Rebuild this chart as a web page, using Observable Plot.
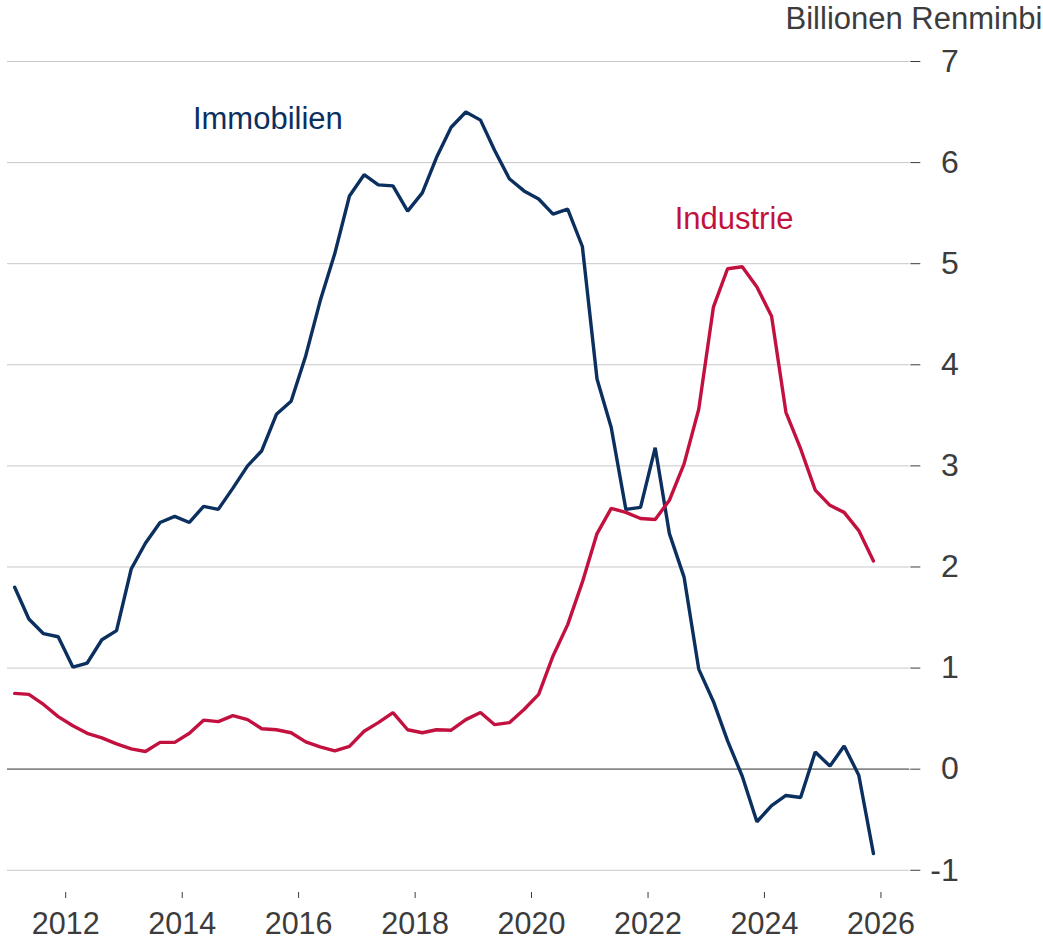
<!DOCTYPE html>
<html>
<head>
<meta charset="utf-8">
<script src="https://cdn.jsdelivr.net/npm/d3@7"></script>
<script src="https://cdn.jsdelivr.net/npm/@observablehq/plot@0.6"></script>
<style>
  html, body { margin: 0; padding: 0; background: #fff; }
  #chart svg { display: block; }
</style>
</head>
<body>
<div id="chart"></div>
<script>
// Quarterly series, 2011 Q1 – 2025 Q4 (plotted at mid-quarter)
const firstYear = 2011;
const lastYear = 2025;

const immobilien = [
  1.80, 1.485, 1.34, 1.31,
  1.01, 1.05, 1.28, 1.37,
  1.98, 2.235, 2.44, 2.50,
  2.44, 2.60, 2.57, 2.78,
  3.00, 3.15, 3.51, 3.64,
  4.09, 4.63, 5.10, 5.67,
  5.88, 5.78, 5.77, 5.52,
  5.70, 6.05, 6.35, 6.50,
  6.42, 6.12, 5.84, 5.72,
  5.64, 5.49, 5.54, 5.17,
  3.86, 3.38, 2.57, 2.59,
  3.18, 2.33, 1.90, 0.99,
  0.67, 0.28, -0.07, -0.52,
  -0.36, -0.26, -0.28, 0.17,
  0.03, 0.23, -0.06, -0.835
];

const industrie = [
  0.75, 0.74, 0.64, 0.52,
  0.43, 0.355, 0.31, 0.25,
  0.20, 0.175, 0.265, 0.265,
  0.355, 0.485, 0.47, 0.53,
  0.49, 0.40, 0.39, 0.36,
  0.27, 0.22, 0.18, 0.225,
  0.375, 0.46, 0.56, 0.39,
  0.36, 0.39, 0.385, 0.49,
  0.56, 0.44, 0.46, 0.59,
  0.74, 1.12, 1.43, 1.85,
  2.33, 2.58, 2.54, 2.48,
  2.47, 2.66, 3.02, 3.56,
  4.57, 4.95, 4.97, 4.77,
  4.48, 3.53, 3.17, 2.76,
  2.61, 2.54, 2.36, 2.06
];

const xTickYears = [2012, 2014, 2016, 2018, 2020, 2022, 2024, 2026];
const yTickValues = [-1, 0, 1, 2, 3, 4, 5, 6, 7];
const unitLabel = "Billionen Renminbi";
const seriesNames = ["Immobilien", "Industrie"];
const seriesColors = ["#0b2f5f", "#c3113f"];
const labelDates = ["2014-03-09", "2022-06-17"];
const labelValues = [6.43, 5.44];

// Build tables from the arrays
const quarterDates = [];
for (let y = firstYear; y <= lastYear; y++) {
  for (let q = 0; q < 4; q++) quarterDates.push(new Date(Date.UTC(y, 3 * q + 1, 15)));
}
const immData = quarterDates.map((date, i) => ({date, value: immobilien[i]}));
const indData = quarterDates.map((date, i) => ({date, value: industrie[i]}));
const xTicks = xTickYears.map(y => new Date(Date.UTC(y, 0, 1)));

const font = "'Liberation Sans', Arial, Helvetica, sans-serif";
const textColor = "#3c3c3c";

const chart = Plot.plot({
  width: 1043,
  height: 939,
  marginLeft: 7,
  marginRight: 133.7,
  marginTop: 61,
  marginBottom: 47,
  style: {fontFamily: font, background: "#fff", color: textColor, overflow: "visible"},
  x: {type: "utc", domain: [new Date(Date.UTC(2011, 0, 1)), new Date(Date.UTC(2026, 6, 1))]},
  y: {domain: [-1.22, 7]},
  marks: [
    Plot.ruleY(yTickValues.filter(d => d !== 0), {stroke: "#c8c8c8", strokeWidth: 1}),
    Plot.ruleY([0], {stroke: "#888888", strokeWidth: 1.8}),
    Plot.axisX({ticks: xTicks, tickSize: 6, tickPadding: 14, tickFormat: d3.utcFormat("%Y"), fontSize: 30.5, label: null}),
    Plot.axisY({anchor: "right", ticks: yTickValues, tickSize: 10, tickPadding: 39, textAnchor: "end",
                tickFormat: d => String(d), fontSize: 32, label: null}),
    Plot.line(immData, {x: "date", y: "value", stroke: seriesColors[0], strokeWidth: 3.4, strokeLinejoin: "miter"}),
    Plot.line(indData, {x: "date", y: "value", stroke: seriesColors[1], strokeWidth: 3.4, strokeLinejoin: "miter"}),
    Plot.text([0], {x: () => new Date(labelDates[0]), y: () => labelValues[0], text: () => seriesNames[0],
                    fill: seriesColors[0], fontSize: 31, textAnchor: "start", lineAnchor: "middle"}),
    Plot.text([1], {x: () => new Date(labelDates[1]), y: () => labelValues[1], text: () => seriesNames[1],
                    fill: seriesColors[1], fontSize: 31, textAnchor: "start", lineAnchor: "middle"}),
    Plot.text([unitLabel], {text: d => d, frameAnchor: "top-right", textAnchor: "end", lineAnchor: "bottom",
                            dx: 132.5, dy: -32.7, fontSize: 31, fill: textColor})
  ]
});

document.getElementById("chart").appendChild(chart);
</script>
</body>
</html>
